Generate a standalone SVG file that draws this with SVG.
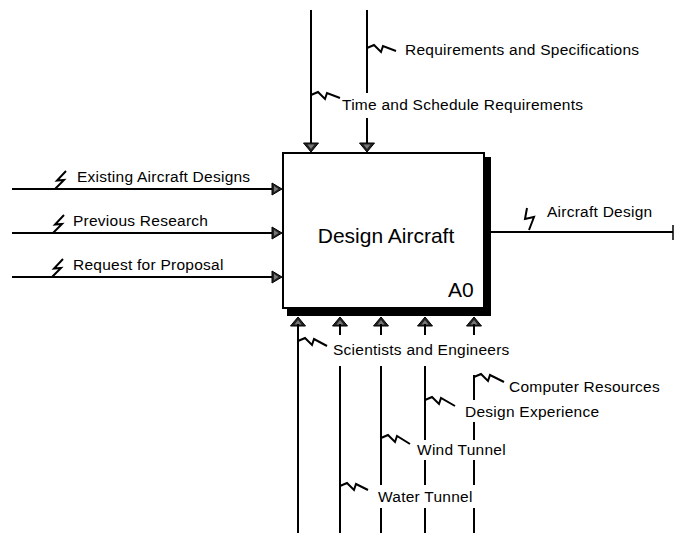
<svg xmlns="http://www.w3.org/2000/svg" xmlns:xlink="http://www.w3.org/1999/xlink" width="674" height="533" viewBox="0 0 674 533">
<style>
.ln{stroke:#000;stroke-width:2;fill:none}
.sq{stroke:#000;stroke-width:2;fill:none;stroke-linejoin:miter}
.lb{font-family:"Liberation Sans",Arial,sans-serif;font-size:15.5px;letter-spacing:0.25px;fill:#000}
.big{font-family:"Liberation Sans",Arial,sans-serif;font-size:21px;fill:#000}
</style>
<defs>
<g id="ahR"><polygon points="-10,-6 0,0 -10,6" fill="#222" stroke="#000" stroke-width="1"/><polygon points="-8,-3 -3.5,0 -8,3" fill="#777"/></g>
<g id="ahD"><polygon points="-7.5,-9 7.5,-9 0,0" fill="#222" stroke="#000" stroke-width="1"/><polygon points="-3.5,-7.5 3.5,-7.5 0,-3" fill="#777"/></g>
</defs>
<rect width="674" height="533" fill="#fff"/>
<g id="A0">
<rect x="287" y="157" width="204" height="159" fill="#000"/>
<rect x="283" y="153" width="201" height="155" fill="#fff" stroke="#000" stroke-width="2"/>
<text class="big" x="386" y="243" text-anchor="middle">Design Aircraft</text>
<text class="big" x="448" y="297">A0</text>
</g>
<g id="connectors">
<line class="ln" x1="311" y1="10" x2="311" y2="145"/>
<line class="ln" x1="367" y1="10" x2="367" y2="93"/>
<line class="ln" x1="367" y1="118" x2="367" y2="145"/>
<use xlink:href="#ahD" transform="translate(311,152)"/>
<use xlink:href="#ahD" transform="translate(367,152)"/>
<line class="ln" x1="12" y1="189" x2="276" y2="189"/>
<line class="ln" x1="12" y1="233" x2="276" y2="233"/>
<line class="ln" x1="12" y1="277" x2="276" y2="277"/>
<use xlink:href="#ahR" transform="translate(282,189)"/>
<use xlink:href="#ahR" transform="translate(282,233)"/>
<use xlink:href="#ahR" transform="translate(282,277)"/>
<line class="ln" x1="491" y1="232" x2="673" y2="232"/>
<line x1="673" y1="225" x2="673" y2="240" stroke="#000" stroke-width="1.5"/>
<use xlink:href="#ahD" transform="translate(298,317) rotate(180)"/>
<use xlink:href="#ahD" transform="translate(340,317) rotate(180)"/>
<use xlink:href="#ahD" transform="translate(381,317) rotate(180)"/>
<use xlink:href="#ahD" transform="translate(425,317) rotate(180)"/>
<use xlink:href="#ahD" transform="translate(474,317) rotate(180)"/>
<line class="ln" x1="298" y1="324" x2="298" y2="533"/>
<line class="ln" x1="340" y1="324" x2="340" y2="335"/>
<line class="ln" x1="340" y1="366" x2="340" y2="533"/>
<line class="ln" x1="381" y1="324" x2="381" y2="335"/>
<line class="ln" x1="381" y1="366" x2="381" y2="485"/>
<line class="ln" x1="381" y1="508" x2="381" y2="533"/>
<line class="ln" x1="425" y1="324" x2="425" y2="335"/>
<line class="ln" x1="425" y1="366" x2="425" y2="440"/>
<line class="ln" x1="425" y1="460" x2="425" y2="485"/>
<line class="ln" x1="425" y1="508" x2="425" y2="533"/>
<line class="ln" x1="474" y1="324" x2="474" y2="335"/>
<line class="ln" x1="474" y1="375" x2="474" y2="400"/>
<line class="ln" x1="474" y1="422" x2="474" y2="440"/>
<line class="ln" x1="474" y1="460" x2="474" y2="485"/>
<line class="ln" x1="474" y1="508" x2="474" y2="533"/>
<path class="sq" d="M367,48 l7,-3 l7,7 l2,-6 l13,5"/>
<path class="sq" d="M311,95 l7,-3 l7,7 l2,-6 l13,5"/>
<path class="sq" d="M298,341 l7,-3 l7,7 l2,-6 l13,7"/>
<path class="sq" d="M474,377 l7,-3 l7,7 l2,-6 l14,7"/>
<path class="sq" d="M425,400 l7,-3 l7,7 l2,-6 l14,8"/>
<path class="sq" d="M381,438 l7,-3 l7,7 l2,-6 l13,8"/>
<path class="sq" d="M340,486 l7,-3 l7,7 l2,-6 l12,6"/>
<path class="sq" d="M66,171 L57,180.5 L64,180 L55,189"/>
<path class="sq" d="M64,215 L55,224.5 L62,224 L53,233"/>
<path class="sq" d="M63,259 L54,268.5 L61,268 L52,277"/>
<path class="sq" d="M527,208 L525,219 L534,217 L529,230"/>
</g>
<g id="labels">
<text class="lb" x="405" y="55">Requirements and Specifications</text>
<text class="lb" x="342" y="110">Time and Schedule Requirements</text>
<text class="lb" x="77" y="182">Existing Aircraft Designs</text>
<text class="lb" x="73" y="226">Previous Research</text>
<text class="lb" x="73" y="270">Request for Proposal</text>
<text class="lb" x="547" y="217">Aircraft Design</text>
<text class="lb" x="333" y="355">Scientists and Engineers</text>
<text class="lb" x="509" y="392">Computer Resources</text>
<text class="lb" x="465" y="417">Design Experience</text>
<text class="lb" x="417" y="455">Wind Tunnel</text>
<text class="lb" x="378" y="502">Water Tunnel</text>
</g>
</svg>
